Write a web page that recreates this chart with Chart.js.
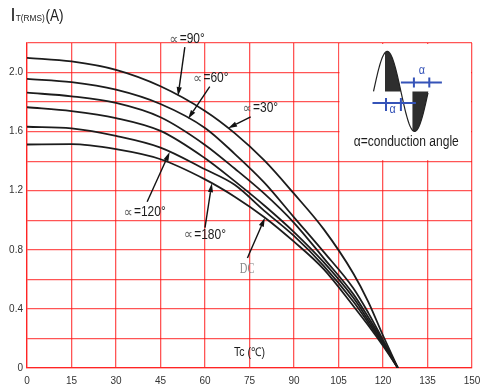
<!DOCTYPE html>
<html>
<head>
<meta charset="utf-8">
<script src="https://cdn.jsdelivr.net/npm/chart.js@4.4.0/dist/chart.umd.min.js"></script>
<style>
  html, body { margin: 0; padding: 0; background: #ffffff; }
  #wrap { width: 482px; height: 389px; position: relative; }
</style>
</head>
<body>
<div id="wrap"><canvas id="c" width="482" height="389"></canvas></div>
<script>
// Case temperature (°C) sample points shared by every curve
const caseTemps = [0, 15, 30, 45, 60, 70, 80, 90, 100, 110, 115, 120, 125];

// Maximum RMS on-state current (A), curves from top to bottom
const curveA = [2.10, 2.075, 2.018, 1.907, 1.74, 1.59, 1.405, 1.18, 0.94, 0.64, 0.45, 0.22, 0];
const curveB = [1.957, 1.935, 1.884, 1.787, 1.625, 1.45, 1.255, 1.02, 0.786, 0.54, 0.375, 0.19, 0];
const curveC = [1.864, 1.839, 1.794, 1.697, 1.51, 1.35, 1.18, 0.983, 0.744, 0.50, 0.345, 0.18, 0];
const curveD = [1.765, 1.739, 1.692, 1.605, 1.42, 1.265, 1.10, 0.92, 0.716, 0.475, 0.325, 0.17, 0];
const curveE = [1.633, 1.622, 1.571, 1.492, 1.345, 1.24, 1.064, 0.894, 0.692, 0.45, 0.307, 0.16, 0];
const curveF = [1.513, 1.515, 1.481, 1.413, 1.277, 1.16, 1.021, 0.855, 0.669, 0.42, 0.289, 0.15, 0];
const curves = [curveA, curveB, curveC, curveD, curveE, curveF];

// Axis ticks
const tempTicks = [0, 15, 30, 45, 60, 75, 90, 105, 120, 135, 150];
const currentTicks = [0, 0.4, 0.8, 1.2, 1.6, 2.0];

const SANS = '"Liberation Sans", Arial, sans-serif';
const NARROW = '"Liberation Sans Narrow", "Liberation Sans", Arial, sans-serif';
const GRID_RED = 'rgba(255, 20, 20, 0.72)';
const INK = '#1c1c1c';
const BLUE = '#3553b8';

// Curve callouts: label centre and arrow tail in (°C, A); arrow tip sits on a curve
const callouts = [
  { sym: '∝', text: '=90°',  at: [54.0, 2.226], tail: [53.2, 2.172], curve: 0, tipTemp: 50.9 },
  { sym: '∝', text: '=60°',  at: [62.0, 1.961], tail: [61.6, 1.905], curve: 1, tipTemp: 54.3 },
  { sym: '∝', text: '=30°',  at: [78.7, 1.760], tail: [75.4, 1.700], curve: 0, tipTemp: 67.8 },
  { sym: '∝', text: '=120°', at: [39.7, 1.056], tail: [40.5, 1.125], curve: 4, tipTemp: 48.1 },
  { sym: '∝', text: '=180°', at: [60.0, 0.903], tail: [60.0, 0.950], curve: 5, tipTemp: 62.3 },
  { sym: '',  text: 'DC',    at: [74.2, 0.671], tail: [74.3, 0.745], curve: 5, tipTemp: 80.2, dc: true }
];

// Key panel occupying the upper right grid cells
const keyPanel = { t0: 105, t1: 150, i0: 1.4, i1: 2.2 };

function curveAt(values, t) {
  for (let k = 0; k < caseTemps.length - 1; k++) {
    const a = caseTemps[k], b = caseTemps[k + 1];
    if (t >= a && t <= b) {
      const f = (t - a) / (b - a);
      return values[k] + f * (values[k + 1] - values[k]);
    }
  }
  return values[values.length - 1];
}

function scaledText(ctx, str, x, y, font, color, sx, align) {
  ctx.save();
  ctx.font = font;
  ctx.fillStyle = color;
  ctx.textBaseline = 'middle';
  ctx.textAlign = align || 'left';
  ctx.translate(x, y);
  ctx.scale(sx, 1);
  ctx.fillText(str, 0, 0);
  ctx.restore();
}

function arrow(ctx, x1, y1, x2, y2) {
  const ang = Math.atan2(y2 - y1, x2 - x1);
  const len = 9, half = 2.6;
  const bx = x2 - len * Math.cos(ang), by = y2 - len * Math.sin(ang);
  ctx.save();
  ctx.strokeStyle = '#111';
  ctx.fillStyle = '#111';
  ctx.lineWidth = 1.4;
  ctx.beginPath();
  ctx.moveTo(x1, y1);
  ctx.lineTo(bx, by);
  ctx.stroke();
  ctx.beginPath();
  ctx.moveTo(x2, y2);
  ctx.lineTo(bx + half * Math.sin(ang), by - half * Math.cos(ang));
  ctx.lineTo(bx - half * Math.sin(ang), by + half * Math.cos(ang));
  ctx.closePath();
  ctx.fill();
  ctx.restore();
}

const extras = {
  id: 'extras',
  beforeDatasetsDraw(chart) {
    const { ctx, scales: { x, y } } = chart;
    const L = x.getPixelForValue(keyPanel.t0);
    const R = x.getPixelForValue(keyPanel.t1);
    const T = y.getPixelForValue(keyPanel.i1);
    const B = y.getPixelForValue(keyPanel.i0);
    ctx.save();
    ctx.fillStyle = '#ffffff';
    ctx.fillRect(L + 1, T + 1, R - L - 2, B - T - 2);

    // half-wave sketch with the conducting portions shaded
    const x0 = L + 35, zy = T + 48.4, hp = 27.4, amp = 40, fire = 0.42;
    const wave = (t) => zy - amp * Math.sin(Math.PI * t / hp);
    ctx.fillStyle = '#2e2e2e';
    [[fire * hp, hp], [hp + fire * hp, 2 * hp]].forEach(([a, b]) => {
      ctx.beginPath();
      ctx.moveTo(x0 + a, zy);
      for (let t = a; t <= b + 0.01; t += 0.5) ctx.lineTo(x0 + t, wave(t));
      ctx.lineTo(x0 + b, zy);
      ctx.closePath();
      ctx.fill();
    });
    ctx.strokeStyle = '#222';
    ctx.lineWidth = 1.2;
    ctx.beginPath();
    for (let t = 0; t <= 2 * hp + 0.01; t += 0.5) {
      if (t === 0) ctx.moveTo(x0 + t, wave(t)); else ctx.lineTo(x0 + t, wave(t));
    }
    ctx.stroke();

    // conduction angle dimension marks
    ctx.strokeStyle = BLUE;
    ctx.lineWidth = 2;
    const uy = zy - 9, ly = zy + 11.6;
    ctx.beginPath();
    ctx.moveTo(x0 + hp, uy); ctx.lineTo(x0 + hp + 41, uy);
    ctx.moveTo(x0 + hp + fire * hp + 1.5, uy - 5); ctx.lineTo(x0 + hp + fire * hp + 1.5, uy + 5);
    ctx.moveTo(x0 + 2 * hp + 1, uy - 5); ctx.lineTo(x0 + 2 * hp + 1, uy + 5);
    ctx.moveTo(x0 - 1, ly); ctx.lineTo(x0 + hp + 15, ly);
    ctx.moveTo(x0 + fire * hp + 1, ly - 5); ctx.lineTo(x0 + fire * hp + 1, ly + 8);
    ctx.moveTo(x0 + hp, ly - 5); ctx.lineTo(x0 + hp, ly + 8);
    ctx.stroke();
    scaledText(ctx, 'α', x0 + hp + 21, uy - 12, '12px ' + SANS, BLUE, 0.9, 'center');
    scaledText(ctx, 'α', x0 + fire * hp + 7.5, ly + 7, '12px ' + SANS, BLUE, 0.9, 'center');

    scaledText(ctx, 'α=conduction angle', (L + R) / 2 + 1, B - 19, '14px ' + SANS, INK, 0.86, 'center');
    ctx.restore();
  },
  afterDatasetsDraw(chart) {
    const { ctx, scales: { x, y } } = chart;
    callouts.forEach(c => {
      const cx = x.getPixelForValue(c.at[0]);
      const cy = y.getPixelForValue(c.at[1]);
      const tx = x.getPixelForValue(c.tail[0]);
      const ty = y.getPixelForValue(c.tail[1]);
      const px = x.getPixelForValue(c.tipTemp);
      const py = y.getPixelForValue(curveAt(curves[c.curve], c.tipTemp));
      arrow(ctx, tx, ty, px, py);
      if (c.dc) {
        scaledText(ctx, c.text, cx, cy, '15px "Liberation Serif", serif', '#8a8a8a', 0.7, 'center');
        return;
      }
      const symFont = '15px "DejaVu Sans", sans-serif';
      ctx.save();
      ctx.font = symFont;
      const ws = ctx.measureText(c.sym).width * 0.85;
      ctx.font = '15px ' + SANS;
      const wt = ctx.measureText(c.text).width * 0.8;
      ctx.restore();
      const start = cx - (ws + 1 + wt) / 2;
      scaledText(ctx, c.sym, start, cy + 1, symFont, '#666', 0.85, 'left');
      scaledText(ctx, c.text, start + ws + 1, cy, '15px ' + SANS, INK, 0.8, 'left');
    });
    // axis name for temperature, placed inside the plot
    scaledText(ctx, 'Tc (℃)', x.getPixelForValue(75), y.getPixelForValue(0.107),
      '12px ' + SANS, INK, 0.88, 'center');
  },
  afterDraw(chart) {
    const ctx = chart.ctx;
    ctx.save();
    ctx.textBaseline = 'alphabetic';
    ctx.fillStyle = '#222';
    ctx.font = '18px ' + SANS;
    ctx.fillText('I', 10.5, 20.5);
    ctx.restore();
    ctx.save();
    ctx.fillStyle = '#222';
    ctx.textBaseline = 'alphabetic';
    ctx.translate(15.8, 20.5);
    ctx.scale(0.92, 1);
    ctx.font = '9px ' + SANS;
    ctx.fillText('T(RMS)', 0, 0);
    ctx.restore();
    ctx.save();
    ctx.fillStyle = '#222';
    ctx.textBaseline = 'alphabetic';
    ctx.translate(45.5, 20.5);
    ctx.scale(0.8, 1);
    ctx.font = '17px ' + SANS;
    ctx.fillText('(A)', 0, 0);
    ctx.restore();
  }
};

const datasets = curves.map(vals => ({
  data: caseTemps.map((t, k) => ({ x: t, y: vals[k] })),
  borderColor: INK,
  borderWidth: 1.8,
  pointRadius: 0,
  fill: false,
  cubicInterpolationMode: 'monotone'
}));

new Chart(document.getElementById('c'), {
  type: 'line',
  data: { datasets },
  options: {
    responsive: false,
    animation: false,
    events: [],
    layout: { padding: { top: 43, right: 10, left: 0, bottom: 0 } },
    plugins: { legend: { display: false }, tooltip: { enabled: false }, title: { display: false } },
    scales: {
      x: {
        type: 'linear',
        min: tempTicks[0],
        max: tempTicks[tempTicks.length - 1],
        afterBuildTicks: (s) => { s.ticks = tempTicks.map(v => ({ value: v })); },
        afterFit: (s) => { s.height = 21; s.paddingLeft = 0; s.paddingRight = 0; },
        grid: { color: GRID_RED, lineWidth: 1.3, drawTicks: false },
        border: { color: GRID_RED, width: 1.3 },
        ticks: { padding: 7, color: '#333', font: { family: NARROW, size: 10 }, maxRotation: 0 }
      },
      y: {
        type: 'linear',
        min: 0,
        max: 2.2,
        afterBuildTicks: (s) => {
          const t = [];
          for (let k = 0; k <= 11; k++) t.push({ value: Math.round(k * 2) / 10 });
          s.ticks = t;
        },
        afterFit: (s) => { s.width = 27; s.paddingTop = 0; s.paddingBottom = 0; },
        grid: { color: GRID_RED, lineWidth: 1.3, drawTicks: false },
        border: { color: GRID_RED, width: 1.3 },
        ticks: {
          padding: 4,
          color: '#333',
          font: { family: NARROW, size: 10 },
          callback: (v) => {
            const hit = currentTicks.find(c => Math.abs(c - v) < 1e-6);
            if (hit === undefined) return '';
            return hit === 0 ? '0' : hit.toFixed(1);
          }
        }
      }
    }
  },
  plugins: [extras]
});
</script>
</body>
</html>
